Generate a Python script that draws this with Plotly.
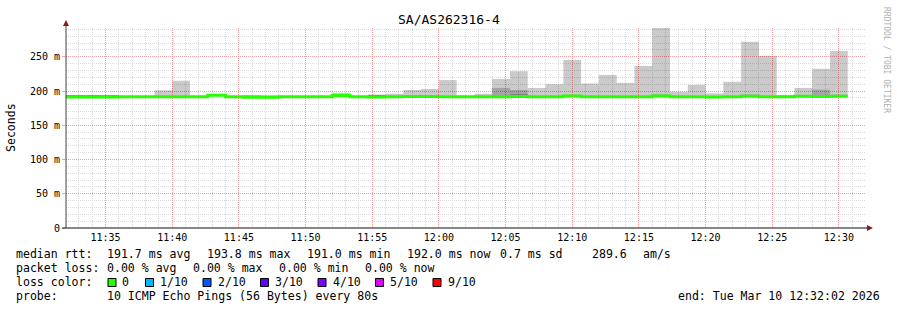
import plotly.graph_objects as go
import pandas as pd

# ---------------- data ----------------
chart_title = "SA/AS262316-4"
y_title = "Seconds"
step_start = "2026-03-10 11:32:00"   # first 80 s step boundary
step_seconds = 80
x_start = "2026-03-10 11:32:02"
x_end = "2026-03-10 12:32:02"
x_tick_first = "2026-03-10 11:35:00"

# median rtt per step (ms)
rtt_median = [191.3, 191.3, 191.4, 191.8, 191.8, 191.7, 191.5, 191.6, 193.8, 191.6,
              191.0, 191.0, 191.5, 191.6, 191.6, 193.4, 191.7, 191.2, 191.5, 192.0,
              192.0, 191.6, 191.7, 191.5, 191.8, 191.9, 191.6, 191.7, 192.6, 191.6,
              191.5, 191.6, 191.6, 192.8, 191.5, 191.5, 191.4, 191.6, 192.2, 191.7,
              191.6, 192.5, 192.0, 192.3]
# smallest ping per step (bottom of smoke)
rtt_min = [190.5, 190.5, 190.6, 191.0, 191.0, 190.9, 190.7, 190.8, 192.9, 190.8,
           190.2, 190.2, 190.7, 190.8, 190.8, 192.5, 190.9, 190.4, 190.7, 191.2,
           191.2, 190.8, 190.9, 190.7, 191.0, 191.1, 190.8, 190.9, 191.8, 190.8,
           190.7, 190.8, 190.8, 192.0, 190.7, 190.7, 190.6, 190.8, 191.4, 190.9,
           190.8, 191.7, 191.2, 191.5]
# largest ping per step (top of smoke)
rtt_max = [194.0, 194.0, 194.0, 193.0, 193.0, 201.0, 215.0, 193.0, 195.5, 193.0,
           194.0, 194.0, 193.0, 193.0, 193.0, 197.5, 193.0, 194.5, 196.0, 201.5,
           203.0, 216.0, 193.0, 196.0, 217.5, 229.0, 204.5, 210.0, 245.5, 211.0,
           223.5, 212.0, 236.5, 292.0, 199.0, 209.0, 196.5, 213.5, 272.0, 251.5,
           194.2, 204.5, 232.5, 258.5]
# upper edge of the inner (darker) smoke band
rtt_inner = [194.0, 194.0, 194.0, None, None, None, None, None, None, None,
             193.8, None, None, None, None, None, None, 194.5, None, None,
             None, None, None, None, 204.5, 201.5, None, None, 193.5, None,
             None, None, None, 195.0, None, None, None, None, 195.0, None,
             None, 194.0, 202.0, 194.5]
# upper edge of the core (darkest) smoke band
rtt_core = [193.9, 193.9, 193.9, None, None, None, None, None, None, None,
            None, None, None, None, None, None, None, 194.3, None, None,
            None, None, None, None, None, 195.5, None, None, None, None,
            None, None, None, None, None, None, None, None, None, None,
            None, None, None, None]

y_max = 292.0
y_tick_vals = [0, 50, 100, 150, 200, 250]
y_tick_text = ["0", "50 m", "100 m", "150 m", "200 m", "250 m"]

loss_labels = ["0", "1/10", "2/10", "3/10", "4/10", "5/10", "9/10"]
loss_colors = ["#26ff00", "#00b8ff", "#0059ff", "#5e00ff", "#7e00ff", "#dd00ff", "#ff0000"]

legend_line1 = [("median rtt:", 16), ("191.7 ms avg", 107), ("193.8 ms max", 207),
                ("191.0 ms min", 307), ("192.0 ms now", 407), ("0.7 ms sd", 500),
                ("289.6", 592), ("am/s", 643)]
legend_line2 = [("packet loss:", 16), ("0.00 % avg", 107), ("0.00 % max", 193),
                ("0.00 % min", 279), ("0.00 % now", 365)]
legend_line3_head = ("loss color:", 16)
loss_box_x = [108, 145.5, 203, 260.5, 318, 375.5, 433]
loss_label_x = [122, 160, 217.5, 275, 332.5, 390, 447.5]
legend_line4 = [("probe:", 16), ("10 ICMP Echo Pings (56 Bytes) every 80s", 107),
                ("end: Tue Mar 10 12:32:02 2026", 678)]
credit = "RRDTOOL / TOBI OETIKER"

# ---------------- geometry helpers ----------------
W, H = 897, 310
PL, PT, PW, PH = 66, 28, 800, 200
MONO = "DejaVu Sans Mono"
LEG = 11.55


def px(x):
    return (x - PL) / PW


def py(y):
    return (PT + PH - y) / PH


n = len(rtt_median)
bounds = pd.date_range(step_start, periods=n + 1, freq=f"{step_seconds}s")
centers = bounds[:-1] + pd.Timedelta(seconds=step_seconds / 2)

fig = go.Figure()


def band(top, color):
    xs, bases, hs = [], [], []
    for c, lo, hi in zip(centers, rtt_min, top):
        if hi is None:
            continue
        xs.append(c)
        bases.append(lo)
        hs.append(hi - lo)
    fig.add_trace(go.Bar(x=xs, y=hs, base=bases, width=step_seconds * 1000,
                         marker=dict(color=color, line=dict(width=0)),
                         hoverinfo="skip", showlegend=False))


band(rtt_max, "rgba(0,0,0,0.208)")
band(rtt_inner, "rgba(0,0,0,0.19)")
band(rtt_core, "rgba(0,0,0,0.23)")

fig.add_trace(go.Scatter(x=list(bounds), y=rtt_median + [rtt_median[-1]],
                         mode="lines", line=dict(color=loss_colors[0], width=3, shape="hv"),
                         hoverinfo="skip", showlegend=False))

minor_grid = "#dadada"
major_grid = "#f0a0a0"

fig.update_layout(
    width=W, height=H,
    margin=dict(l=PL, r=W - PL - PW, t=PT, b=H - PT - PH, pad=0),
    paper_bgcolor="white", plot_bgcolor="white",
    barmode="overlay", showlegend=False,
    font=dict(family=MONO, color="black"),
    xaxis=dict(type="date", range=[x_start, x_end], tick0=x_tick_first, dtick=300000,
               tickformat="%H:%M", showgrid=True, gridcolor=major_grid, griddash="1px,1px",
               gridwidth=1, zeroline=False, showline=False, ticks="", ticklabelstandoff=2,
               tickfont=dict(family=MONO, size=10, color="black"),
               minor=dict(dtick=60000, tick0=x_tick_first, showgrid=True,
                          gridcolor=minor_grid, griddash="1px,1px", gridwidth=1, ticks="")),
    yaxis=dict(range=[0, y_max], tickmode="array", tickvals=y_tick_vals, ticktext=y_tick_text,
               showgrid=True, gridcolor=major_grid, griddash="1px,1px", gridwidth=1,
               zeroline=False, showline=False, ticks="outside", ticklen=3,
               tickcolor=major_grid, ticklabelstandoff=0,
               tickfont=dict(family=MONO, size=10, color="black"),
               minor=dict(dtick=10, tick0=0, showgrid=True, gridcolor=minor_grid,
                          griddash="1px,1px", gridwidth=1, ticks="")),
)

shapes = []
# y axis line and arrow
shapes.append(dict(type="line", xref="paper", yref="paper", x0=0, x1=0, y0=0, y1=py(23),
                   line=dict(color="#404040", width=1)))
shapes.append(dict(type="path", xref="paper", yref="paper",
                   path=f"M {px(63)},{py(26)} L {px(69)},{py(26)} L {px(66)},{py(20)} Z",
                   fillcolor="#8b1a1a", line=dict(width=0)))
# x axis line and arrow
shapes.append(dict(type="line", xref="paper", yref="paper", x0=px(62), x1=px(868), y0=0, y1=0,
                   line=dict(color="#111111", width=1)))
shapes.append(dict(type="path", xref="paper", yref="paper",
                   path=f"M {px(867)},{py(225)} L {px(867)},{py(231)} L {px(873)},{py(228)} Z",
                   fillcolor="#8b1a1a", line=dict(width=0)))
# loss colour swatches
for bx, col in zip(loss_box_x, loss_colors):
    shapes.append(dict(type="rect", xref="paper", yref="paper",
                       x0=px(bx), x1=px(bx + 8), y0=py(286.5), y1=py(278.5),
                       fillcolor=col, line=dict(color="black", width=1)))
fig.update_layout(shapes=shapes)

ann = []


def text(t, x, y, size=LEG, color="black", angle=0, xanchor="left", yanchor="middle"):
    ann.append(dict(text=t, xref="paper", yref="paper", x=px(x), y=py(y),
                    xanchor=xanchor, yanchor=yanchor, showarrow=False, textangle=angle,
                    borderpad=0, borderwidth=0,
                    font=dict(family=MONO, size=size, color=color)))


text(chart_title, 448.5, 20, size=13, xanchor="center")
text(y_title, 11, 127, angle=-90, xanchor="center")
text(credit, 887, 60, size=8, color="#b0b0b0", angle=90, xanchor="center")

for t, x in legend_line1:
    text(t, x, 254)
for t, x in legend_line2:
    text(t, x, 268)
text(legend_line3_head[0], legend_line3_head[1], 282)
for t, x in zip(loss_labels, loss_label_x):
    text(t, x, 282)
for t, x in legend_line4:
    text(t, x, 296)

fig.update_layout(annotations=ann)
fig.write_html("out.html")
